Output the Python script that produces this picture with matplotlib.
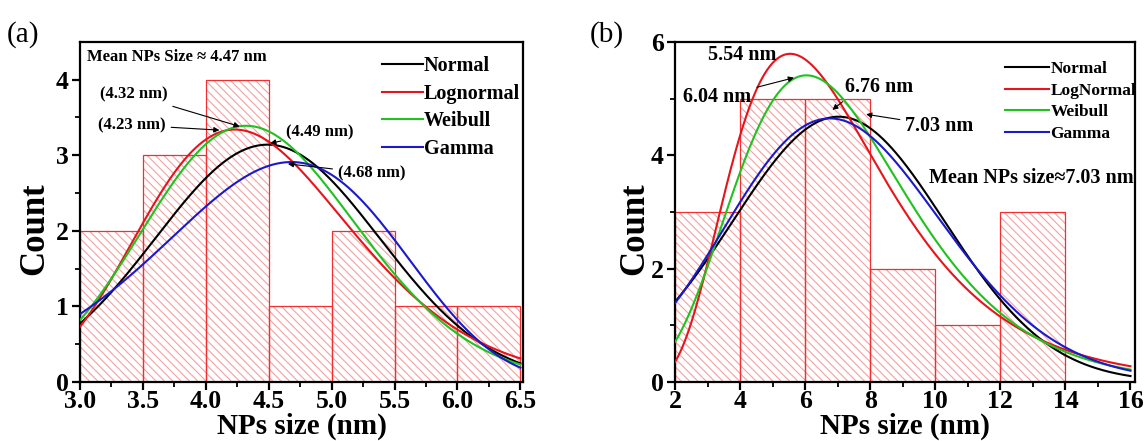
import numpy as np
import matplotlib.pyplot as plt

plt.rcParams["font.family"] = ["Liberation Serif", "DejaVu Serif"]
plt.rcParams["font.weight"] = "bold"
plt.rcParams["hatch.linewidth"] = 0.8

# histogram (a)
edges_a = [3.0, 3.5, 4.0, 4.5, 5.0, 5.5, 6.0, 6.5]
counts_a = [2, 3, 4, 1, 2, 1, 1]
# histogram (b)
edges_b = [2, 4, 6, 8, 10, 12, 14]
counts_b = [3, 5, 5, 2, 1, 3]

names_a = ["Normal", "Lognormal", "Weibull", "Gamma"]
names_b = ["Normal", "LogNormal", "Weibull", "Gamma"]
colors = ["black", "#e8141c", "#1fc21f", "#1a1acc"]

# fitted curves: peak position (nm), peak height, log-width, threshold
# threshold None -> plain gaussian (width in nm)
peak_a = [4.49, 4.23, 4.32, 4.68]
height_a = [3.14, 3.34, 3.39, 2.91]
width_a = [0.89, 0.197, 0.0906, 0.179]
thresh_a = [None, 0.0, -5.0, 10.0]

peak_b = [7.03, 5.54, 6.04, 6.76]
height_b = [4.68, 5.79, 5.41, 4.65]
width_b = [3.25, 0.43, 0.293, 0.0892]
thresh_b = [None, 0.0, -3.0, -30.0]

mean_a = 4.47
mean_b = 7.03


def peak_curve(x, m, h, s, t):
    if t is None:
        return h * np.exp(-(x - m) ** 2 / (2 * s ** 2))
    if t < m:
        L = np.log((x - t) / (m - t))
    else:
        L = np.log((t - x) / (t - m))
    return h * np.exp(-L ** 2 / (2 * s ** 2))


def draw_hist(ax, edges, counts):
    lefts = edges[:-1]
    widths = np.diff(edges)
    ax.bar(lefts, counts, width=widths, align="edge", facecolor="white",
           edgecolor="#f4a0a0", hatch="\\\\\\\\", linewidth=0, zorder=1)
    ax.bar(lefts, counts, width=widths, align="edge", fill=False,
           edgecolor="#f03030", linewidth=0.9, zorder=2)


def style_axes(ax, ylab_x):
    for sp in ax.spines.values():
        sp.set_linewidth(1.6)
    ax.tick_params(which="major", direction="out", length=6, width=1.6,
                   labelsize=18.5)
    ax.tick_params(axis="x", which="major", pad=0)
    ax.tick_params(axis="y", which="major", pad=2)
    ax.tick_params(which="minor", direction="out", length=3.5, width=1.3)
    ax.set_ylabel("Count", fontsize=25, fontweight="bold")
    ax.yaxis.set_label_coords(ylab_x, 0.45)
    ax.set_xlabel("NPs size (nm)", fontsize=21, fontweight="bold", labelpad=-0.5)


fig = plt.figure(figsize=(11.45, 4.41), dpi=100)
ax1 = fig.add_axes([0.0699, 0.134, 0.3868, 0.771])
ax2 = fig.add_axes([0.5895, 0.134, 0.4018, 0.771])

# ---- (a)
draw_hist(ax1, edges_a, counts_a)
xa = np.linspace(3.0, 6.5, 400)
for i in range(4):
    ax1.plot(xa, peak_curve(xa, peak_a[i], height_a[i], width_a[i], thresh_a[i]),
             color=colors[i], lw=1.5, label=names_a[i], zorder=3)
ax1.set_xlim(3.0, 6.52)
ax1.set_ylim(0, 4.5)
ax1.set_xticks(np.arange(3.0, 6.51, 0.5))
ax1.set_xticks(np.arange(3.25, 6.5, 0.5), minor=True)
ax1.set_yticks([0, 1, 2, 3, 4])
ax1.set_yticks([0.5, 1.5, 2.5, 3.5], minor=True)
ax1.xaxis.set_major_formatter(plt.FormatStrFormatter("%.1f"))
style_axes(ax1, -0.066)
ax1.legend(loc="upper right", bbox_to_anchor=(1.025, 1.0), frameon=False,
           fontsize=14.5, handlelength=2.0, handletextpad=0.05,
           labelspacing=0.38, borderaxespad=0.3)
ax1.text(0.015, 0.955, "Mean NPs Size \u2248 %.2f nm" % mean_a, transform=ax1.transAxes,
         fontsize=12, va="center", ha="left")

arrow = dict(arrowstyle="-|>", color="black", lw=0.8, mutation_scale=8)
ax1.annotate("(%.2f nm)" % peak_a[2], xy=(4.29, 3.37), xytext=(3.70, 3.80),
             fontsize=12, ha="right", va="center", arrowprops=arrow)
ax1.annotate("(%.2f nm)" % peak_a[1], xy=(4.13, 3.33), xytext=(3.68, 3.40),
             fontsize=12, ha="right", va="center", arrowprops=arrow)
ax1.annotate("(%.2f nm)" % peak_a[0], xy=(4.49, 3.15), xytext=(4.64, 3.30),
             fontsize=12, ha="left", va="center", arrowprops=arrow)
ax1.annotate("(%.2f nm)" % peak_a[3], xy=(4.63, 2.89), xytext=(5.05, 2.76),
             fontsize=12, ha="left", va="center", arrowprops=arrow)
fig.text(0.006, 0.905, "(a)", fontsize=21, fontweight="normal")

# ---- (b)
draw_hist(ax2, edges_b, counts_b)
xb = np.linspace(2, 16, 400)
for i in range(4):
    ax2.plot(xb, peak_curve(xb, peak_b[i], height_b[i], width_b[i], thresh_b[i]),
             color=colors[i], lw=1.5, label=names_b[i], zorder=3)
ax2.set_xlim(2, 16.14)
ax2.set_ylim(0, 6)
ax2.set_xticks(range(2, 17, 2))
ax2.set_xticks(range(3, 16, 2), minor=True)
ax2.set_yticks([0, 2, 4, 6])
ax2.set_yticks([1, 3, 5], minor=True)
style_axes(ax2, -0.052)
ax2.legend(loc="upper right", bbox_to_anchor=(1.025, 0.975), frameon=False,
           fontsize=12.5, handlelength=2.5, handletextpad=0.1,
           labelspacing=0.32, borderaxespad=0.2)
ax2.text(0.997, 0.60, "Mean NPs size\u2248%.2f nm" % mean_b, transform=ax2.transAxes,
         fontsize=14.5, va="center", ha="right")

ax2.text(3.03, 5.76, "%.2f nm" % peak_b[1], fontsize=14.5, ha="left", va="center")
ax2.annotate("%.2f nm" % peak_b[2], xy=(5.74, 5.38), xytext=(4.35, 5.02),
             fontsize=14.5, ha="right", va="center", arrowprops=arrow)
ax2.annotate("%.2f nm" % peak_b[3], xy=(6.77, 4.77), xytext=(7.22, 5.2),
             fontsize=14.5, ha="left", va="center",
             arrowprops=dict(arrow, relpos=(0.05, 0.0)))
ax2.annotate("%.2f nm" % peak_b[0], xy=(7.79, 4.73), xytext=(9.08, 4.52),
             fontsize=14.5, ha="left", va="center", arrowprops=arrow)
fig.text(0.515, 0.905, "(b)", fontsize=21, fontweight="normal")

fig.savefig("out.png", dpi=100)
